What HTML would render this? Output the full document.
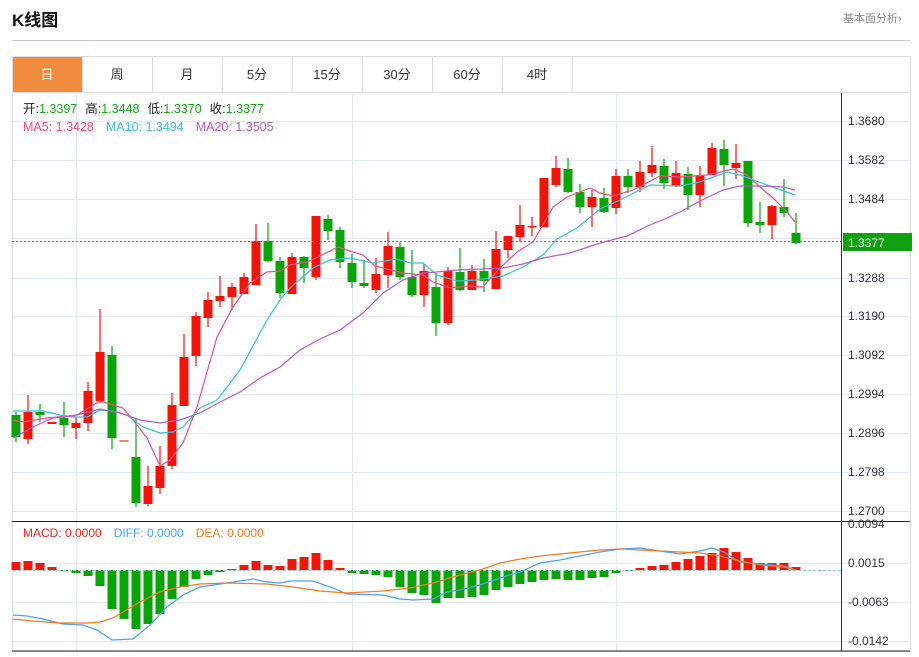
<!DOCTYPE html>
<html><head><meta charset="utf-8">
<style>
body{margin:0;background:#fff;width:919px;height:652px;overflow:hidden;font-family:"Liberation Sans","Noto Sans CJK SC",sans-serif;}
</style></head><body>
<svg id="s" width="919" height="652" xmlns="http://www.w3.org/2000/svg" font-family="Liberation Sans, Noto Sans CJK SC, sans-serif">
<text x="12" y="26" font-size="17" font-weight="bold" fill="#111">K线图</text>
<text x="843" y="22" font-size="11" fill="#888">基本面分析›</text>
<line x1="12" y1="40.5" x2="910" y2="40.5" stroke="#ccc"/>
<rect x="12.5" y="56.5" width="898" height="595" fill="none" stroke="#ddd"/>
<line x1="12" y1="92.5" x2="910" y2="92.5" stroke="#ddd"/>
<rect x="13" y="57" width="69" height="35" fill="#f28c3f"/>
<g stroke="#ddd"><line x1="82.5" y1="57" x2="82.5" y2="92"/><line x1="152.5" y1="57" x2="152.5" y2="92"/><line x1="222.5" y1="57" x2="222.5" y2="92"/><line x1="292.5" y1="57" x2="292.5" y2="92"/><line x1="362.5" y1="57" x2="362.5" y2="92"/><line x1="432.5" y1="57" x2="432.5" y2="92"/><line x1="502.5" y1="57" x2="502.5" y2="92"/><line x1="572.5" y1="57" x2="572.5" y2="92"/></g>
<g font-size="13" text-anchor="middle" fill="#333">
<text x="47" y="79" fill="#fff">日</text><text x="117" y="79">周</text><text x="187" y="79">月</text><text x="257" y="79">5分</text><text x="327" y="79">15分</text><text x="397" y="79">30分</text><text x="467" y="79">60分</text><text x="537" y="79">4时</text></g>
<g id="grid" stroke="#e3eaf2"></g>
<g id="c"></g>
<line x1="841.5" y1="93" x2="841.5" y2="651" stroke="#333"/>
<line x1="12" y1="521.5" x2="910" y2="521.5" stroke="#222"/>
<line x1="12" y1="651" x2="910" y2="651" stroke="#222"/>
<g font-size="12" fill="#333">
<text x="848" y="125">1.3680</text><text x="848" y="164">1.3582</text><text x="848" y="203">1.3484</text><text x="848" y="282">1.3288</text><text x="848" y="320">1.3190</text><text x="848" y="359">1.3092</text><text x="848" y="398">1.2994</text><text x="848" y="437">1.2896</text><text x="848" y="476">1.2798</text><text x="848" y="515">1.2700</text>
<text x="848" y="528">0.0094</text><text x="848" y="567">0.0015</text><text x="848" y="606">-0.0063</text><text x="848" y="645">-0.0142</text></g>
<rect x="843" y="233" width="69" height="18" fill="#0da10d"/>
<text x="848" y="247" font-size="12" fill="#fff">1.3377</text>
<line x1="12" y1="241.5" x2="841" y2="241.5" stroke="#19b319" stroke-dasharray="2,2"/>
<g font-size="12.5">
<text x="23" y="113"><tspan fill="#222">开:</tspan><tspan fill="#1aa51a">1.3397</tspan><tspan fill="#222" dx="8">高:</tspan><tspan fill="#1aa51a">1.3448</tspan><tspan fill="#222" dx="8">低:</tspan><tspan fill="#1aa51a">1.3370</tspan><tspan fill="#222" dx="8">收:</tspan><tspan fill="#1aa51a">1.3377</tspan></text>
<text x="23" y="131"><tspan fill="#ee4f7f">MA5: 1.3428</tspan><tspan fill="#33c3dc" dx="12">MA10: 1.3494</tspan><tspan fill="#b35ccb" dx="12">MA20: 1.3505</tspan></text>
<text x="23" y="537" font-size="12"><tspan fill="#ee2a1a">MACD: 0.0000</tspan><tspan fill="#4aa3f0" dx="12">DIFF: 0.0000</tspan><tspan fill="#f47a20" dx="12">DEA: 0.0000</tspan></text>
</g>
</svg>
<script>
var NS="http://www.w3.org/2000/svg",g=document.getElementById('c'),gr=document.getElementById('grid');
function el(t,a,p){var e=document.createElementNS(NS,t);for(var k in a)e.setAttribute(k,a[k]);(p||g).appendChild(e);return e;}
[121,160,199,238,278,316,355,394,433,472,511,563,602,641].forEach(function(y){el('line',{x1:13,x2:910,y1:y+.5,y2:y+.5},gr)});
[76,352,616].forEach(function(x){el('line',{x1:x+.5,x2:x+.5,y1:93,y2:651},gr)});
var R='#f0150a',G='#0aa40a';
var C=[['G',415,437,412,442],['R',412,439,395,444],['G',412,415,404,422],['R',222+200,224+200,422,424],['G',418,425,402,437],['R',423,428,417,439],['R',391,423,382,431],['R',352,401,309,403],['G',355,438,346,449],['P',440,442,440,442],['G',457,503,418,507],['R',486,504,466,506],['R',466,488,446,494],['R',405,466,393,469],['R',357,406,334,406],['R',316,356,312,366],['R',300,318,292,327],['R',296,301,276,307],['R',287,297,283,310],['R',277,294,273,294],['R',241,285,224,285],['G',241,261,223,262],['G',261,293,257,298],
['R',257,294,253,294],['G',257,268,256,283],['R',216,277,216,280],['G',219,231,215,240],['G',230,262,227,268],['G',263,282,254,288],['G',283,286,260,288],['R',274,290,258,293],['R',246,275,232,288],['G',247,277,242,280],['G',277,295,250,297],['R',271,295,264,307],['G',287,323,273,336],['R',271,323,267,325],['G',272,290,248,291],['R',271,290,265,290],['G',271,281,259,292],['R',249,289,231,289],['R',236,250,236,258],['R',225,237,205,242],['R',226,227,217,236],['R',178,227,178,227],['R',168,185,156,187],['G',169,192,158,193],['G',192,207,184,213],['R',197,207,190,227],['G',198,212,188,213],
['R',176,208,169,214],['G',176,187,169,193],['R',172,187,161,192],['R',165,173,146,177],['G',166,183,159,189],['R',173,186,161,187],['G',174,195,167,210],['R',175,195,166,207],['R',148,175,143,175],['G',149,165,140,186],['R',163,168,144,179],['G',161,223,161,227],['G',222,225,202,233],['R',206,225,205,239],['G',207,213,179,217],['G',233,243,213,244]];
C.forEach(function(c,i){var x=16+12*i,col=c[0]=='G'?G:(c[0]=='P'?'#f08080':R);
el('line',{x1:x,x2:x,y1:c[3],y2:c[4],stroke:col,'stroke-width':1.2});
el('rect',{x:x-4.5,y:c[1],width:9,height:Math.max(1.5,c[2]-c[1]),fill:col});});
function pl(pts,col){el('polyline',{points:pts,fill:'none',stroke:col,'stroke-width':1.2});}
pl("13,420 23,422 47,418 77,415 100,401 123,408 133,420 147,438 160,466 170,460 183,443 197,407 217,337 233,307 250,283 267,272 280,271 290,265 307,262 318,257 338,247 350,251 363,255 375,266 403,273 423,275 433,282 450,288 467,286 483,287 500,268 517,252 533,242 553,207 567,197 590,188 600,193 613,196 633,190 660,176 680,177 707,175 733,169 747,175 760,187 773,198 787,212 795,222","#ee4f7f");
pl("13,411 43,411 60,415 73,417 87,417 100,410 113,411 127,415 143,427 160,433 173,432 183,427 200,408 217,400 240,370 267,320 280,300 290,288 313,268 330,260 350,258 373,263 397,259 410,263 423,263 437,275 457,281 477,280 503,276 523,267 543,255 557,239 577,228 600,209 620,200 650,185 680,186 700,182 727,172 740,175 767,185 795,195","#33c3dc");
pl("13,438 33,427 53,418 73,416 100,409 120,413 140,420 160,423 180,420 200,413 220,402 240,392 260,378 280,367 300,350 320,339 340,330 363,313 383,293 403,280 423,273 437,272 457,270 483,269 503,268 523,264 543,258 570,253 600,243 627,236 650,225 667,218 680,212 700,201 723,190 740,186 760,186 783,187 795,190","#b35ccb");
var M=[562,561,563,567,571,573,576,586,609,619,629,624,614,599,587,579,575,572,569,565,561,565,566,559,557,553,560,568,573,574,575,577,587,593,595,603,598,598,597,595,590,587,584,582,580,579,580,580,578,577,573,571,568,566,565,562,559,556,553,548,552,558,563,563,563,567];
M.forEach(function(v,i){var x=16+12*i,z=570;var up=v<z;el('rect',{x:x-4.5,y:Math.min(v,z),width:9,height:Math.max(1,Math.abs(v-z)),fill:up?R:G});});
el('line',{x1:13,x2:841,y1:570.5,y2:570.5,stroke:'#9cc',"stroke-dasharray":"3,2"});
pl("13,615 27,616 43,619 63,624 83,625 97,630 112,640 133,639 150,625 167,607 183,595 200,587 227,583 253,579 267,582 280,583 290,581 313,581 333,588 347,594 383,595 400,599 413,600 433,599 447,592 460,590 480,585 500,578 520,572 540,563 560,560 580,556 600,552 620,549 640,548 660,551 680,554 700,551 712,548 724,552 740,562 760,564 784,566 796,570","#4aa3f0");
pl("13,619 33,621 60,623 87,623 100,622 113,618 140,602 160,592 180,587 200,584 227,583 267,584 293,587 320,591 347,593 383,591 410,588 433,583 460,575 480,570 500,563 520,559 540,556 560,554 580,552 600,550 620,549 640,550 660,551 680,552 700,553 720,556 740,561 760,565 784,567 796,570","#f47a20");
</script>
</body></html>
